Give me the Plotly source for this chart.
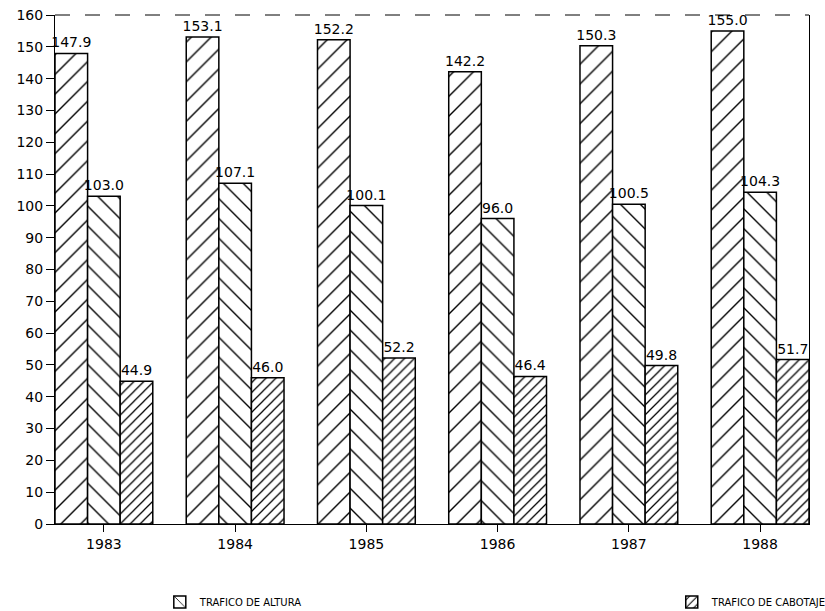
import plotly.graph_objects as go

years = ["1983", "1984", "1985", "1986", "1987", "1988"]
total = [147.9, 153.1, 152.2, 142.2, 150.3, 155.0]
altura = [103.0, 107.1, 100.1, 96.0, 100.5, 104.3]
cabotaje = [44.9, 46.0, 52.2, 46.4, 49.8, 51.7]
yticks = list(range(0, 161, 10))

FAM = "DejaVu Sans, Verdana, sans-serif"
font = dict(family=FAM, size=14, color="black")

def bar(name, vals, shape, size, solidity, show, legend="legend"):
    return go.Bar(
        x=years, y=vals, name=name, showlegend=show, legend=legend,
        marker=dict(color="white", line=dict(color="black", width=1.5),
                    pattern=dict(shape=shape, size=size, solidity=solidity,
                                 fgcolor="black", fgopacity=1, bgcolor="white",
                                 fillmode="overlay")),
        text=[f"{v:.1f}" for v in vals], textposition="outside",
        textfont=dict(family=FAM, size=14, color="black"),
        constraintext="none",
        cliponaxis=False,
    )

fig = go.Figure([
    bar("TOTAL", total, "/", 14, 0.1, False),
    bar("TRAFICO DE ALTURA", altura, "\\", 14, 0.1, True, "legend"),
    bar("TRAFICO DE CABOTAJE", cabotaje, "/", 7, 0.18, True, "legend2"),
])

legend_common = dict(orientation="h", yanchor="middle", y=-0.153, xanchor="left",
                     font=dict(family=FAM, size=10, color="black"), itemwidth=30,
                     bgcolor="rgba(0,0,0,0)")

fig.update_layout(
    width=825, height=611,
    margin=dict(l=55, r=16, t=15, b=87, autoexpand=False),
    paper_bgcolor="white", plot_bgcolor="white",
    font=font,
    barmode="group", bargap=0.255, bargroupgap=0,
    legend=dict(x=0.139, **legend_common),
    legend2=dict(x=0.818, **legend_common),
    xaxis=dict(showline=True, linecolor="black", linewidth=1, mirror=False,
               ticks="outside", ticklen=7, tickcolor="black", showgrid=False,
               range=[-0.3725, 5.3725], tickfont=dict(family=FAM, size=14)),
    yaxis=dict(showline=True, linecolor="black", linewidth=1, mirror=True,
               ticks="outside", ticklen=8, tickcolor="black", showgrid=False,
               range=[0, 160], tickvals=yticks, zeroline=False,
               tickfont=dict(family=FAM, size=14)),
    shapes=[dict(type="line", xref="paper", yref="paper", x0=0, x1=1, y0=1, y1=1,
                 line=dict(color="black", width=1, dash="longdash"))],
)

fig.write_html("out.html")
